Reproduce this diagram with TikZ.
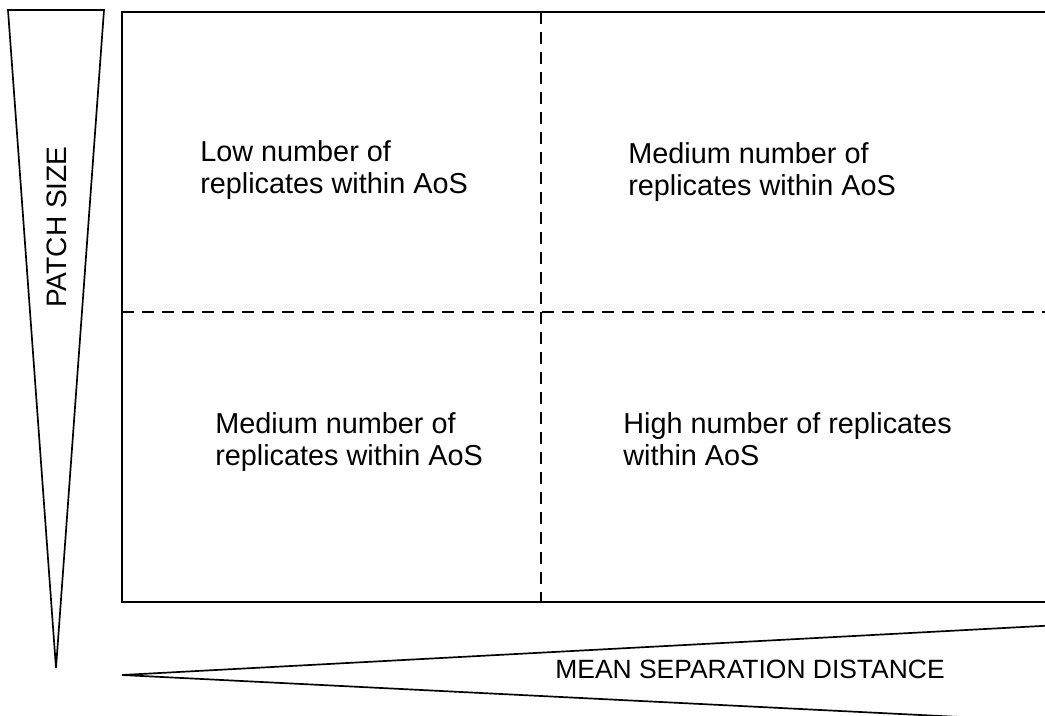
\documentclass[tikz,border=0pt]{standalone}
\usepackage{fontspec}
\setmainfont{Liberation Sans}
\usetikzlibrary{calc}
\tikzstyle{qtext}=[inner sep=0pt, anchor=north west, align=left,
                   font=\fontsize{20.5}{23.2}\selectfont]
\tikzstyle{axtext}=[inner sep=0pt]
\tikzstyle{frame}=[-, line width=1.2pt, line join=miter]
\tikzstyle{divide}=[-, line width=0.9pt, dash pattern=on 0.3cm off 0.2cm]

\begin{document}
\begin{tikzpicture}[x=0.025cm,y=-0.025cm]
\useasboundingbox (0,0) rectangle (1045,716);
\clip (0,0) rectangle (1045,716);

% grid box
\coordinate (TL) at (122,12);
\coordinate (BL) at (122,602);
\coordinate (TR) at (1045,12);
\coordinate (BR) at (1045,602);
\draw[frame] (TR) -- (TL) -- (BL) -- (BR);
\draw[divide] (541,12) -- (541,602);
\draw[divide] (122,312) -- (1045,312);

% wedges
\draw[frame] (8,10) -- (104,10) -- (56,668) -- cycle;
\draw[frame] (1060,625) -- (122,675) -- (1060,722);

\node (LOW) [qtext] at (200,140) {Low number of\\replicates within AoS};
\node (MEDA) [qtext] at (628,142) {Medium number of\\replicates within AoS};
\node (MEDB) [qtext] at (215,412) {Medium number of\\replicates within AoS};
\node (HIGH) [qtext] at (623,412) {High number of replicates\\within AoS};

\node (PSIZE) [axtext, rotate=90, font=\fontsize{20}{23}\selectfont] at (57,227) {PATCH SIZE};
\node (MSD) [axtext, font=\fontsize{18.8}{22}\selectfont] at (750,669) {MEAN SEPARATION DISTANCE};

\end{tikzpicture}
\end{document}
